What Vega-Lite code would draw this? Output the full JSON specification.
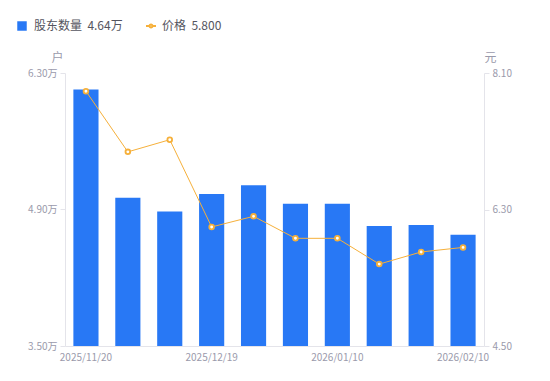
{
  "$schema": "https://vega.github.io/schema/vega-lite/v6.json",
  "width": 419,
  "height": 273,
  "autosize": {"type": "none"},
  "padding": {"left": 65, "top": 73, "right": 66, "bottom": 35},
  "config": {
    "font": "Noto Sans CJK SC",
    "view": {"stroke": null},
    "axis": {"grid": false, "domainColor": "#e4e4ea", "tickColor": "#e4e4ea", "labelColor": "#9a9aab", "labelFontSize": 10, "titleColor": "#9a9aab", "titleFontSize": 12, "titleFontWeight": "normal"}
  },
  "data": {
    "values": [
      {"date": "2025/11/20", "holders": 6.13, "price": 7.86},
      {"date": "2025/11/28", "holders": 5.02, "price": 7.06},
      {"date": "2025/12/10", "holders": 4.88, "price": 7.22},
      {"date": "2025/12/19", "holders": 5.06, "price": 6.07},
      {"date": "2025/12/26", "holders": 5.15, "price": 6.21},
      {"date": "2025/12/31", "holders": 4.96, "price": 5.92},
      {"date": "2026/01/10", "holders": 4.96, "price": 5.92},
      {"date": "2026/01/20", "holders": 4.73, "price": 5.58},
      {"date": "2026/01/30", "holders": 4.74, "price": 5.74},
      {"date": "2026/02/10", "holders": 4.64, "price": 5.80}
    ]
  },
  "encoding": {
    "x": {
      "field": "date",
      "type": "ordinal",
      "sort": null,
      "scale": {"paddingInner": 0.4, "paddingOuter": 0.2},
      "axis": {
        "values": ["2025/11/20", "2025/12/19", "2026/01/10", "2026/02/10"],
        "title": null,
        "labelAngle": 0,
        "ticks": false,
        "labelPadding": 6
      }
    }
  },
  "layer": [
    {
      "mark": {"type": "bar", "clip": true},
      "encoding": {
        "y": {
          "field": "holders",
          "type": "quantitative",
          "scale": {"domain": [3.5, 6.3], "nice": false, "zero": false},
          "axis": {
            "orient": "left",
            "values": [3.5, 4.9, 6.3],
            "labelExpr": "format(datum.value, '.2f') + '万'",
            "tickSize": 5,
            "labelPadding": 3,
            "title": "户",
            "titleAngle": 0,
            "titleAlign": "center",
            "titleBaseline": "middle",
            "titleX": -8,
            "titleY": -16
          }
        },
        "y2": {"datum": 3.5},
        "fill": {
          "datum": "股东数量\u00a0\u00a04.64万",
          "type": "nominal",
          "scale": {"range": ["#2878f5"]},
          "legend": {
            "title": null,
            "orient": "none",
            "legendX": -49,
            "legendY": -53,
            "symbolType": "square",
            "symbolSize": 90,
            "labelFontSize": 12,
            "labelColor": "#555560",
            "labelOffset": 6
          }
        }
      }
    },
    {
      "encoding": {
        "y": {
          "field": "price",
          "type": "quantitative",
          "scale": {"domain": [4.5, 8.1], "nice": false, "zero": false},
          "axis": {
            "orient": "right",
            "values": [4.5, 6.3, 8.1],
            "format": ".2f",
            "tickSize": 5,
            "labelPadding": 3,
            "title": "元",
            "titleAngle": 0,
            "titleAlign": "center",
            "titleBaseline": "middle",
            "titleX": 6,
            "titleY": -16
          }
        },
        "stroke": {
          "datum": "价格\u00a0\u00a05.800",
          "type": "nominal",
          "scale": {"range": ["#f6b03a"]},
          "legend": {
            "title": null,
            "orient": "none",
            "legendX": 80,
            "legendY": -53,
            "symbolType": "M-1,0L-0.45,0M0.45,0L1,0M0.3,0A0.3,0.3 0 1,1 -0.3,0A0.3,0.3 0 1,1 0.3,0",
            "symbolSize": 100,
            "symbolStrokeWidth": 2,
            "symbolFillColor": "#ffffff",
            "labelFontSize": 12,
            "labelColor": "#555560",
            "labelOffset": 5
          }
        }
      },
      "layer": [
        {"mark": {"type": "line", "strokeWidth": 1}},
        {"mark": {"type": "point", "filled": true, "fill": "#ffffff", "strokeWidth": 1.8, "size": 22, "opacity": 1}}
      ]
    }
  ],
  "resolve": {"scale": {"y": "independent", "fill": "independent", "stroke": "independent"}}
}
